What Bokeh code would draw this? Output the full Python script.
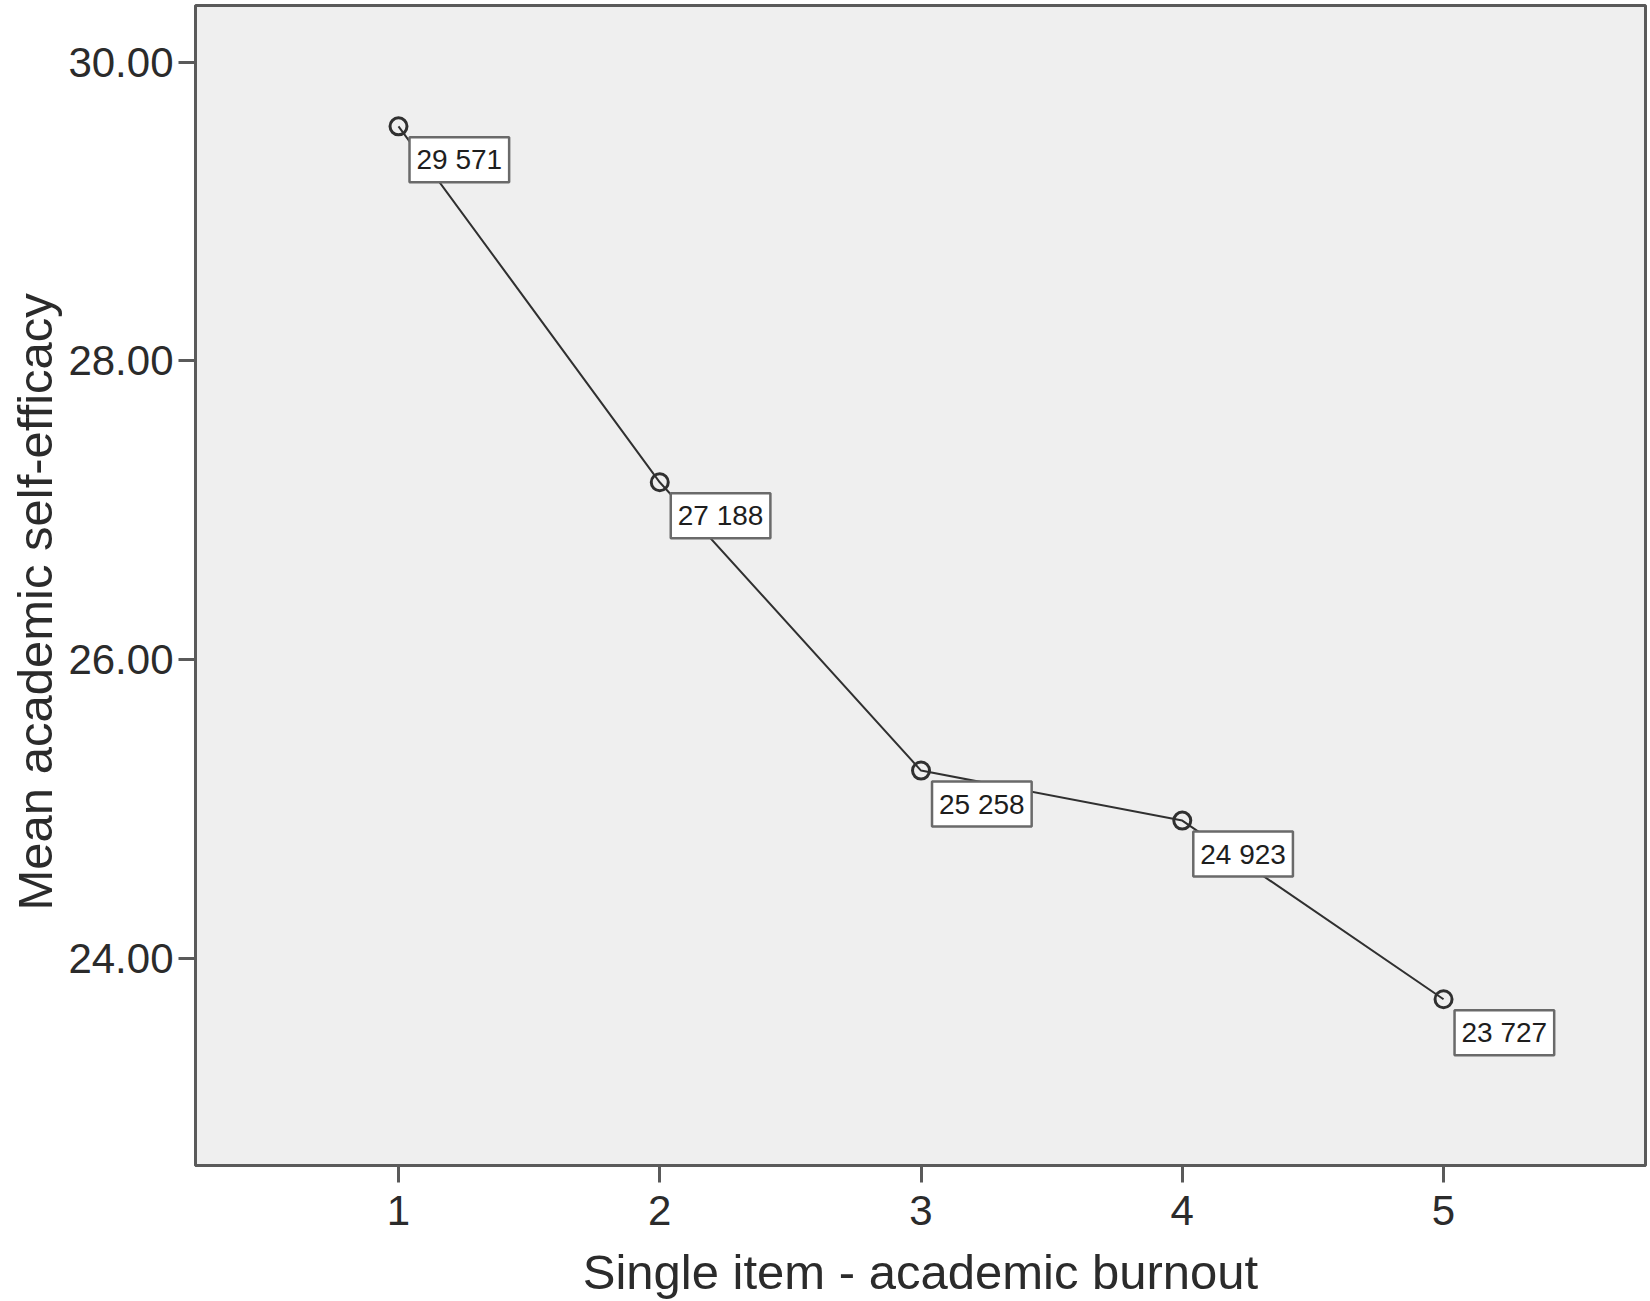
from bokeh.plotting import figure
from bokeh.models import Range1d, FixedTicker, NumeralTickFormatter, Label, Title
from bokeh.embed import file_html
from bokeh.resources import INLINE

# ---- data ----
burnout = [1, 2, 3, 4, 5]
mean_efficacy = [29.571, 27.188, 25.258, 24.923, 23.727]
value_labels = ["29 571", "27 188", "25 258", "24 923", "23 727"]
x_ticks = [1, 2, 3, 4, 5]
y_ticks = [24, 26, 28, 30]
x_title = "Single item - academic burnout"
y_title = "Mean academic self-efficacy"

FONT = "Liberation Sans"
TXT = "#2b2b2b"
AX = "#5a5a5a"

p = figure(width=1650, height=1301, output_backend="svg", toolbar_location=None,
           x_range=Range1d(0.223, 5.773), y_range=Range1d(22.614, 30.38),
           min_border_left=195, min_border_right=5, min_border_top=5,
           min_border_bottom=136)

p.background_fill_color = "#efefef"
p.border_fill_color = "white"
p.outline_line_color = AX
p.outline_line_width = 3
p.grid.visible = False

p.line(burnout, mean_efficacy, line_color="#303030", line_width=2)
p.scatter(burnout, mean_efficacy, marker="circle", size=17, fill_color=None,
          line_color="#303030", line_width=3)

for xv, yv, lab in zip(burnout, mean_efficacy, value_labels):
    p.add_layout(Label(x=xv, y=yv, text=lab, x_offset=11, y_offset=-11,
                       text_align="left", text_baseline="top",
                       text_font=FONT, text_font_size="28px", text_color="#1e1e1e",
                       background_fill_color="white", border_line_color="#6a6a6a",
                       border_line_width=2.5, padding=7))

p.xaxis.ticker = FixedTicker(ticks=x_ticks)
p.yaxis.ticker = FixedTicker(ticks=y_ticks)
p.yaxis.formatter = NumeralTickFormatter(format="0.00")

for ax in (p.xaxis, p.yaxis):
    ax.axis_line_color = AX
    ax.axis_line_width = 3
    ax.major_tick_line_color = AX
    ax.major_tick_line_width = 3
    ax.major_tick_out = 17
    ax.major_tick_in = 0
    ax.minor_tick_line_color = None
    ax.major_label_text_font = FONT
    ax.major_label_text_font_size = "42px"
    ax.major_label_text_color = TXT
    ax.axis_label_text_font = FONT
    ax.axis_label_text_font_size = "49px"
    ax.axis_label_text_font_style = "normal"
    ax.axis_label_text_color = TXT

p.xaxis.axis_label = x_title
p.xaxis.major_label_standoff = 13
p.yaxis.major_label_standoff = 5
p.xaxis.axis_label_standoff = 17

# y-axis title as a side title, positioned along the axis like the original
p.add_layout(Title(text=y_title, align="left", offset=255, standoff=8,
                   text_font=FONT, text_font_size="49px", text_font_style="normal",
                   text_color=TXT), "left")

open("out.html", "w").write(file_html(p, INLINE))
